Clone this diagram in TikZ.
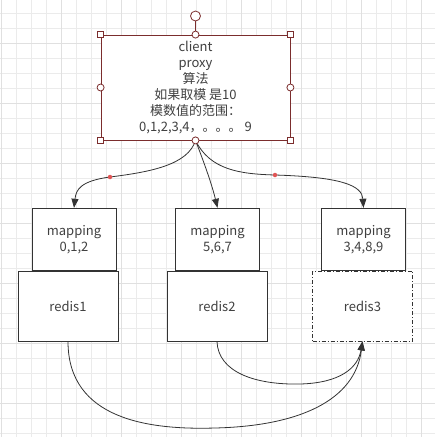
\documentclass[tikz,border=0pt]{standalone}
\usepackage{fontspec}
\setmainfont{Noto Sans CJK SC}
\usepackage{tikz}
\usetikzlibrary{arrows.meta,positioning}
\definecolor{selred}{HTML}{7B2D2D}
\definecolor{dotred}{HTML}{E05555}
\definecolor{gridgrey}{HTML}{EBEBEB}
\definecolor{gridmajor}{HTML}{E0E0E0}
\definecolor{ink}{HTML}{333333}

\begin{document}
\begin{tikzpicture}[x=1pt,y=-1pt,font=\fontsize{13}{16}\selectfont,
  box/.style={draw=ink,fill=white,line width=0.8pt,align=center,text=black!75,inner sep=0pt},
  cli/.style={box,draw=selred,minimum width=189pt,minimum height=105pt},
  mapbox/.style={box,minimum width=84pt,minimum height=62pt},
  rbox/.style={box,minimum width=100pt,minimum height=70pt},
  hsq/.style={draw=selred,fill=white,line width=0.8pt,minimum size=6.5pt,inner sep=0pt},
  hci/.style={circle,draw=selred,fill=white,line width=0.8pt,minimum size=7pt,inner sep=0pt},
  rdot/.style={circle,fill=dotred,minimum size=4.5pt,inner sep=0pt},
  a/.style={-{Triangle[length=9pt,width=7pt]},draw=ink,line width=0.8pt}]

\useasboundingbox (0,0) rectangle (435,437);
\foreach \k in {0,...,28}{\draw[gridgrey,line width=0.8pt] (1.5+15*\k,0)--(1.5+15*\k,437);}
\foreach \k in {-1,...,28}{\draw[gridgrey,line width=0.8pt] (0,13.3+15*\k)--(435,13.3+15*\k);}
\foreach \k in {0,...,7}{\draw[gridmajor,line width=0.8pt] (1.5+60*\k,0)--(1.5+60*\k,437);}
\foreach \k in {0,...,7}{\draw[gridmajor,line width=0.8pt] (0,43.3+60*\k)--(435,43.3+60*\k);}

\node[cli](client) at (195.5,87.5){client\\proxy\\算法\\如果取模 是10\\模数值的范围：\\0,1,2,3,4，。。。 9};

\node[rbox](redis1) at (68,306){redis1};
\node[rbox](redis2) at (217,306){redis2};
\node[rbox,dash pattern=on 4pt off 2pt on 1pt off 2pt](redis3) at (362.5,306){redis3};
\node[mapbox,above=0pt of redis1.north,xshift=6pt](map1){mapping\\0,1,2};
\node[mapbox,above=0pt of redis2.north,xshift=0.5pt](map2){mapping\\5,6,7};
\node[mapbox,above=0pt of redis3.north,xshift=1pt](map3){mapping\\3,4,8,9};

\draw[a](client.south) .. controls (188,165) and (150,172) .. (110,177) node[rdot]{}
  .. controls (80,181) and (76,190) .. (map1.north);
\draw[a](client.south) .. controls (205,165) and (212,185) .. (map2.north);
\draw[a](client.south) .. controls (210,170) and (240,174) .. (275,175) node[rdot]{}
  .. controls (340,177) and (362,185) .. (map3.north);

\draw[a](redis1.south) .. controls (68,420) and (150,430) .. (215,428)
  .. controls (300,426) and (355,400) .. (redis3.south);
\draw[a](redis2.south) .. controls (218,372) and (255,385) .. (300,384)
  .. controls (340,383) and (358,368) .. (redis3.south);

\node[hci,minimum size=10pt](rot) at (195.5,16){};
\draw[selred,line width=0.8pt](rot)--(client.north);
\foreach \p in {north west,north east,south west,south east}{\node[hsq] at (client.\p){};}
\foreach \p in {north,south,east,west}{\node[hci] at (client.\p){};}
\end{tikzpicture}
\end{document}
